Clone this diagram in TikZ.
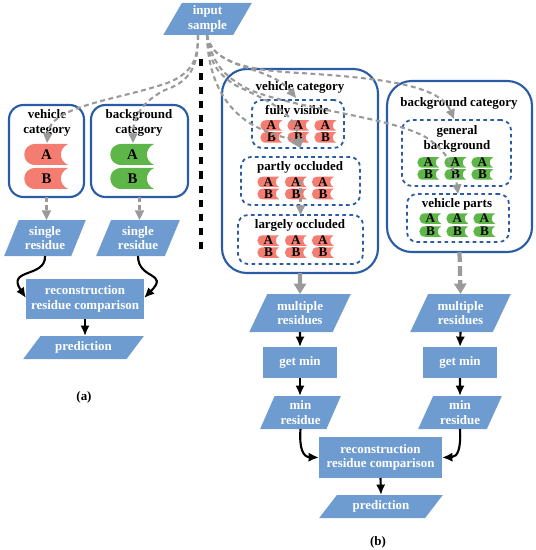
\documentclass[tikz,border=0pt]{standalone}
\usepackage{fontspec}
\setmainfont{Liberation Serif}
\usetikzlibrary{shapes.geometric,arrows.meta}
\definecolor{flowblue}{HTML}{6F9CD0}
\definecolor{edgeblue}{HTML}{2A5CA6}
\definecolor{leafred}{HTML}{F47C70}
\definecolor{leafgreen}{HTML}{5FB648}
\definecolor{dashgray}{HTML}{9A9A9A}
\def\px{0.025cm}
\newcommand{\bigleaf}{\fontsize{10.5}{11}\selectfont}
\tikzset{
    pics/bookleaf/.style={code={
        \fill[pic actions] (-11,-10.5) -- (21.5,-10.5) .. controls (12,-6) and (12,6) .. (21.5,10.5)
            -- (-11,10.5) .. controls (-26,10.5) and (-26,-10.5) .. (-11,-10.5) -- cycle;
        \node[leaftext] (-t) at (0,0) {#1};
    }},
}
\begin{document}
\begin{tikzpicture}[
    x=\px, y=-\px,
    every node/.style={inner sep=0pt, outer sep=0pt},
    txt/.style={font=\fontsize{9.2}{10.5}\selectfont\bfseries, align=center},
    leaftext/.style={font=\fontsize{9.4}{10}\selectfont\bfseries},
    label/.style={txt, text=black},
    flow/.style={txt, text=white, fill=flowblue, rectangle},
    para/.style={flow, trapezium, trapezium stretches=true,
        trapezium left angle=#1, trapezium right angle=180-#1},
    para/.default=62,
    catbox/.style={draw=edgeblue, line width=1.5pt, rounded corners=#1},
    subbox/.style={draw=edgeblue, line width=1.3pt, rounded corners=0.25cm, dash pattern=on 2.6pt off 2.4pt},
    redleaf/.style={fill=leafred},
    greenleaf/.style={fill=leafgreen},
    gdash/.style={draw=dashgray, line width=1.5pt, dash pattern=on 3.5pt off 2.5pt,
        -{Triangle[length=0.24cm,width=0.22cm,fill=dashgray]}},
    gthick/.style={draw=dashgray, line width=3pt, -{Triangle[length=0.26cm,width=0.3cm,fill=dashgray]}},
    arr/.style={-{Latex[length=0.26cm,width=0.23cm]}, black, line width=1.5pt},
]
\useasboundingbox (0,0) rectangle (535,550);

% input
\node[para, minimum width=89*\px, minimum height=32*\px] (input) at (207.5,19) {input\\sample};
\coordinate (srcl) at (198,35);
\coordinate (srcr) at (207,35);
\draw[black, line width=3pt, dash pattern=on 5pt off 5pt] (201,59) coordinate (sepa) -- (201,249) coordinate (sepb);

% (a) boxes
\node[catbox=0.36cm, minimum width=75*\px, minimum height=92*\px] (vbox) at (46.5,151) {};
\node[catbox=0.36cm, minimum width=97*\px, minimum height=92*\px] (bbox) at (139.5,151) {};
\node[label] (vlab) at (47,123) {vehicle\\category};
\node[label] (blab) at (139,123) {background\\category};
\pic[redleaf] (va) at (46.5,154.5) {bookleaf={\bigleaf A}};
\pic[redleaf] (vb) at (46.5,178.5) {bookleaf={\bigleaf B}};
\pic[greenleaf] (ba) at (132.5,154.5) {bookleaf={\bigleaf A}};
\pic[greenleaf] (bb) at (132.5,178.5) {bookleaf={\bigleaf B}};

% (a) flow
\node[para=65, minimum width=82*\px, minimum height=36*\px] (res1) at (45,238) {single\\residue};
\node[para=65, minimum width=84*\px, minimum height=36*\px] (res2) at (138,238) {single\\residue};
\node[flow, minimum width=118*\px, minimum height=40*\px] (rec1) at (85,299) {reconstruction\\residue comparison};
\node[para=46, minimum width=121*\px, minimum height=23*\px] (pred1) at (83.5,347.5) {prediction};
\node[label] (capa) at (84,397) {(a)};
\coordinate (rec1l) at (26,298);
\coordinate (rec1r) at (144,298);
\draw[arr] (res1.south) .. controls (46,278) and (6,268) .. (rec1l);
\draw[arr] (res2.south) .. controls (138,280) and (170,272) .. (rec1r);
\draw[arr] (rec1.south) -- (pred1.north -| rec1.south);

% (b) vehicle side
\node[catbox=0.62cm, minimum width=156*\px, minimum height=204*\px] (vcat) at (300,171) {};
\node[label] (vcatlab) at (300,87) {vehicle category};
\node[subbox, minimum width=92*\px, minimum height=48*\px] (fully) at (298,124) {};
\node[subbox, minimum width=119*\px, minimum height=48*\px] (partly) at (300.5,181) {};
\node[subbox, minimum width=125*\px, minimum height=49*\px] (largely) at (300.5,239.5) {};
\node[label] (fullylab) at (297,111) {fully visible};
\node[label] (partlylab) at (300,167) {partly occluded};
\node[label] (largelylab) at (300,225) {largely occluded};
\foreach \x in {271.5,298.5,325.5} {
    \pic[redleaf, scale=0.5] (fa\x) at (\x,125.5) {bookleaf={A}};
    \pic[redleaf, scale=0.5] (fb\x) at (\x,137.5) {bookleaf={B}};
}
\foreach \x in {268.5,296,323} {
    \pic[redleaf, scale=0.5] (pa\x) at (\x,182) {bookleaf={A}};
    \pic[redleaf, scale=0.5] (pb\x) at (\x,194) {bookleaf={B}};
    \pic[redleaf, scale=0.5] (la\x) at (\x,240.5) {bookleaf={A}};
    \pic[redleaf, scale=0.5] (lb\x) at (\x,252.5) {bookleaf={B}};
}

% (b) background side
\node[catbox=0.62cm, minimum width=145*\px, minimum height=171*\px] (gcat) at (459.5,166.5) {};
\node[label] (gcatlab) at (459,103) {background category};
\node[subbox, minimum width=109*\px, minimum height=66*\px] (general) at (456.5,153) {};
\node[subbox, minimum width=102*\px, minimum height=48*\px] (parts) at (458,218) {};
\node[label] (generallab) at (457,139) {general\\background};
\node[label] (partslab) at (457,204) {vehicle parts};
\foreach \x in {428.5,455.5,482.5} {
    \pic[greenleaf, scale=0.5] (ga\x) at (\x,162.5) {bookleaf={A}};
    \pic[greenleaf, scale=0.5] (gb\x) at (\x,174.5) {bookleaf={B}};
}
\foreach \x in {430.5,457.5,484.5} {
    \pic[greenleaf, scale=0.5] (va\x) at (\x,218.5) {bookleaf={A}};
    \pic[greenleaf, scale=0.5] (vb\x) at (\x,231.5) {bookleaf={B}};
}

% (b) flow
\node[para, minimum width=102*\px, minimum height=38*\px] (mult1) at (300,313) {multiple\\residues};
\node[para, minimum width=101*\px, minimum height=38*\px] (mult2) at (460.5,313) {multiple\\residues};
\node[flow, minimum width=74*\px, minimum height=31*\px] (min1) at (300,362.5) {get min};
\node[flow, minimum width=74*\px, minimum height=31*\px] (min2) at (460,362.5) {get min};
\node[para=65, minimum width=81*\px, minimum height=33*\px] (mres1) at (300.5,412.5) {min\\residue};
\node[para=65, minimum width=84*\px, minimum height=33*\px] (mres2) at (460,412.5) {min\\residue};
\node[flow, minimum width=123*\px, minimum height=41*\px] (rec2) at (380.5,457.5) {reconstruction\\residue comparison};
\node[para=46, minimum width=124*\px, minimum height=23*\px] (pred2) at (381,506.5) {prediction};
\node[label] (capb) at (378,542) {(b)};
\draw[arr] (mult1.south) -- (min1.north);
\draw[arr] (mult2.south) -- (min2.north);
\draw[arr] (min1.south) -- (mres1.north -| min1.south);
\draw[arr] (min2.south) -- (mres2.north);
\draw[arr] (mres1.south) .. controls (299,448) and (303,457) .. (rec2.west);
\draw[arr] (mres2.south) .. controls (461,448) and (458,457) .. (rec2.east);
\draw[arr] (rec2.south) -- (pred2.north);

% gray connectors
\coordinate (vtip) at (47,143);
\coordinate (btip) at (133,143);
\coordinate (vcattip) at (296,98);
\coordinate (gtip) at (454,119);
\draw[gdash] (srcl) .. controls (198,60) and (192,72) .. (170,82) .. controls (120,100) and (50,105) .. (vtip);
\draw[gdash] (srcl) .. controls (198,60) and (195,80) .. (165,90) .. controls (145,100) and (133,115) .. (btip);
\draw[gdash] (srcr) .. controls (212,70) and (270,65) .. (vcattip);
\draw[gdash] (srcr) .. controls (208,90) and (235,115) .. (253,125) .. controls (270,135) and (295,140) .. (fully.south -| partly.north);
\draw[gdash] (srcr) .. controls (209,65) and (220,75) .. (235,85) .. controls (265,100) and (295,110) .. (fully.south -| partly.north);
\draw[gdash] (srcr) .. controls (212,60) and (240,70) .. (300,73) .. controls (380,78) and (440,85) .. (gtip);
\draw[gdash] (srcr) .. controls (212,60) and (220,75) .. (250,90) .. controls (300,110) and (400,118) .. (430,140) .. controls (450,155) and (455,170) .. (parts.north);
\draw[gdash] (partly.south) ++(0,-25) -- (largely.north);
\draw[gthick] (vcat.south) -- (mult1.north);
\draw[gthick, dash pattern=on 7pt off 3pt] (gcat.south) -- (mult2.north);
\draw[gdash] (vbox.south) -- (vbox.south |- res1.north);
\draw[gdash] (bbox.south) -- (bbox.south |- res2.north);
\end{tikzpicture}
\end{document}
